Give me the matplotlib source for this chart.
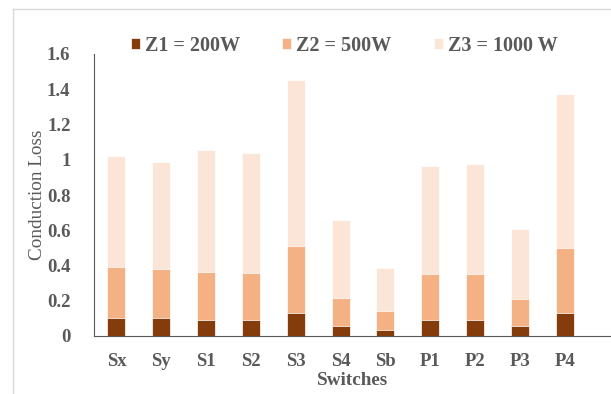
import numpy as np
import matplotlib
matplotlib.use("Agg")
import matplotlib.pyplot as plt
from matplotlib.lines import Line2D

# data
switches = ["Sx", "Sy", "S1", "S2", "S3", "S4", "Sb", "P1", "P2", "P3", "P4"]
z1 = [0.102, 0.102, 0.093, 0.093, 0.132, 0.055, 0.036, 0.093, 0.093, 0.055, 0.132]
z2 = [0.390, 0.382, 0.363, 0.360, 0.510, 0.217, 0.144, 0.350, 0.354, 0.212, 0.500]
z3 = [1.021, 0.990, 1.053, 1.040, 1.450, 0.660, 0.386, 0.967, 0.978, 0.607, 1.375]
labels = ["Z1 = 200W", "Z2 = 500W", "Z3 = 1000 W"]
colors = ["#843C0C", "#F4B183", "#FBE5D6"]

plt.rcParams["font.family"] = ["Liberation Serif", "DejaVu Serif"]
grey = "#595959"

fig = plt.figure(figsize=(6.11, 3.94), dpi=100)
ax = fig.add_axes([94/611, 1-336/394, 1-94/611, (336-54)/394])

x = np.arange(len(switches))
w = 0.4
# bars overlap, drawn from zero, tallest at the back
b3 = ax.bar(x, z3, w, color=colors[2], edgecolor="white", linewidth=0.5, zorder=1)
b2 = ax.bar(x, z2, w, color=colors[1], edgecolor="white", linewidth=0.5, zorder=2)
b1 = ax.bar(x, z1, w, color=colors[0], edgecolor="white", linewidth=0.5, zorder=3)

ax.set_xlim(-0.5, 11.03)
ax.set_ylim(0, 1.6)
yt = np.arange(0, 1.61, 0.2)
ax.set_yticks(yt)
ax.set_yticklabels(["0" if v == 0 else ("1" if abs(v-1) < 1e-9 else "%.1f" % v) for v in yt])
ax.set_xticks(x)
ax.set_xticklabels(switches)
ax.tick_params(axis="both", length=0, labelsize=13.5, colors=grey)
ax.tick_params(axis="y", pad=17)
ax.tick_params(axis="x", pad=12)
for t in ax.get_xticklabels() + ax.get_yticklabels():
    t.set_fontweight("bold")

ax.spines["top"].set_visible(False)
ax.spines["right"].set_visible(False)
ax.spines["left"].set_color(grey)
ax.spines["bottom"].set_color(grey)

ax.set_ylabel("Conduction Loss", fontsize=13.8, color=grey, labelpad=1)
ax.set_xlabel("Switches", fontsize=13.8, color=grey, fontweight="bold", labelpad=2)

leg = fig.legend([b1, b2, b3], labels, loc="center", bbox_to_anchor=(344/611, 1-46/394),
                 ncol=3, frameon=False, handlelength=0.45, handleheight=0.45,
                 handletextpad=0.25, columnspacing=2.1,
                 prop={"weight": "bold", "size": 14.5})
for t in leg.get_texts():
    t.set_color(grey)

# outer chart border (cropped)
fig.add_artist(Line2D([13/611, 13/611], [0, 1-9/394], color="#d9d9d9", lw=1, transform=fig.transFigure))
fig.add_artist(Line2D([13/611, 1], [1-9/394, 1-9/394], color="#d9d9d9", lw=1, transform=fig.transFigure))

fig.savefig("out.png", dpi=100)
